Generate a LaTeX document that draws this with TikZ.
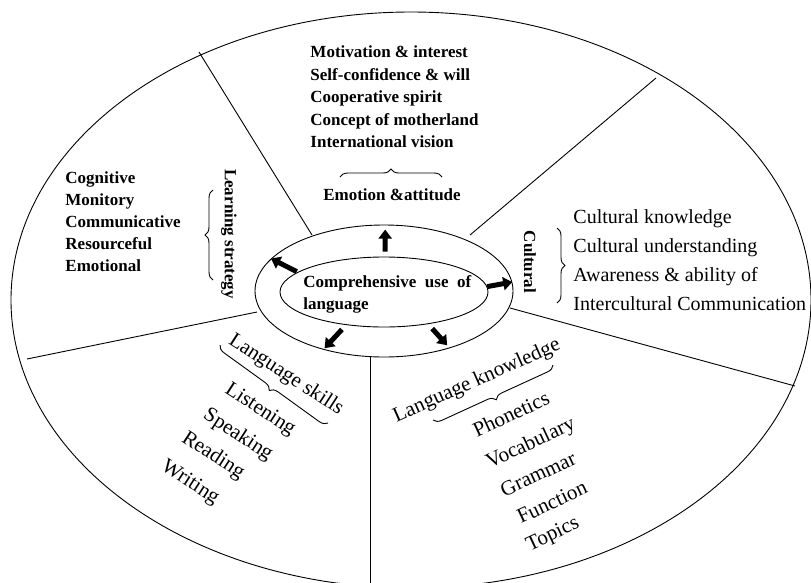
\documentclass[tikz,border=0pt]{standalone}
\usepackage{fontspec}
\setmainfont{Liberation Serif}
\usetikzlibrary{shapes,arrows.meta,decorations.pathreplacing}
\tikzstyle{bold list} = [align=left, inner sep=0pt, font=\bfseries\fontsize{17}{22}\selectfont]
\tikzstyle{big list} = [align=left, inner sep=0pt, font=\fontsize{20}{29}\selectfont]
\tikzstyle{skill} = [inner sep=0pt, font=\fontsize{21}{25}\selectfont]
\tikzstyle{heading} = [inner sep=0pt, font=\bfseries\fontsize{17}{20}\selectfont]
\tikzstyle{ring} = [ellipse, draw, inner sep=0pt]
\tikzstyle{fat} = [line width=5pt, -{Triangle[length=9pt,width=13pt]}]
\tikzstyle{curly} = [draw, decorate, decoration={brace, amplitude=8pt}]

\begin{document}
\begin{tikzpicture}[x=1pt, y=-1pt, line width=0.9pt]
\useasboundingbox (0,0) rectangle (811,582);
\clip (0,0) rectangle (811,582);

% outer field
\draw (411,300) ellipse [x radius=400pt, y radius=288pt];

% the two rings in the middle
\node [ring, minimum width=258pt, minimum height=132pt] (ring) at (384,291) {};
\node [ring, minimum width=208pt, minimum height=70pt] (core) at (384,292) {};
\node [bold list, anchor=west] (centre) at (303,294) {Comprehensive\ \ use\ \ of\\language};

% dividers
\draw (312,235) -- (199,52);
\draw (470,235) -- (656,78);
\draw (510,308) -- (795,386);
\draw (257,312) -- (27,359);
\draw (370,357) -- (370,590);

% emotion
\node [bold list, anchor=west, font=\bfseries\fontsize{17}{22.5}\selectfont] (emotion_items) at (310,97) {Motivation \& interest\\Self-confidence \& will\\Cooperative spirit\\Concept of motherland\\International vision};
\node [heading] (emotion) at (392,195) {Emotion \&attitude};
\path [curly] (340,177) -- (442,177);

% strategy
\node [bold list, anchor=west] (strategy_items) at (65,222) {Cognitive\\Monitory\\Communicative\\Resourceful\\Emotional};
\path [curly] (213,280) -- (213,190);
\node [heading, rotate=-90] (strategy) at (229,234) {Learning strategy};

% culture
\node [heading, rotate=-90] (culture) at (530,262) {Cultural};
\path [curly] (557,228) -- (557,303);
\node [big list, anchor=west] (culture_items) at (573,260) {Cultural knowledge\\Cultural understanding\\Awareness \& ability of\\Intercultural Communication};

% skills
\node [skill, rotate=-33] (skills) at (286,375) {Language skills};
\path [curly] (328,423) -- (220,345);
\node [skill, rotate=-33] (listening) at (260,410) {Listening};
\node [skill, rotate=-33] (speaking) at (238,435) {Speaking};
\node [skill, rotate=-33] (reading) at (213,456) {Reading};
\node [skill, rotate=-33] (writing) at (190,483) {Writing};

% knowledge
\node [skill, rotate=24] (knowledge) at (477,381) {Language knowledge};
\path [curly] (553,365) -- (433,420);
\node [skill, rotate=25] (phonetics) at (511,414) {Phonetics};
\node [skill, rotate=25] (vocabulary) at (531,444) {Vocabulary};
\node [skill, rotate=25] (grammar) at (538,474) {Grammar};
\node [skill, rotate=25] (function) at (552,502) {Function};
\node [skill, rotate=25] (topics) at (553,535) {Topics};

% arrows
\draw [fat, shorten <=5pt, shorten >=5pt] (core.88) -- (ring.89);
\draw [fat, shorten <=1pt] (core.167) -- (ring.164);
\draw [fat] (core.3) -- (ring.4);
\draw [fat, shorten <=6pt, shorten >=2pt] (core.221) -- (ring.224);
\draw [fat, shorten <=6pt, shorten >=4pt] (core.324) -- (ring.319);

\end{tikzpicture}
\end{document}
